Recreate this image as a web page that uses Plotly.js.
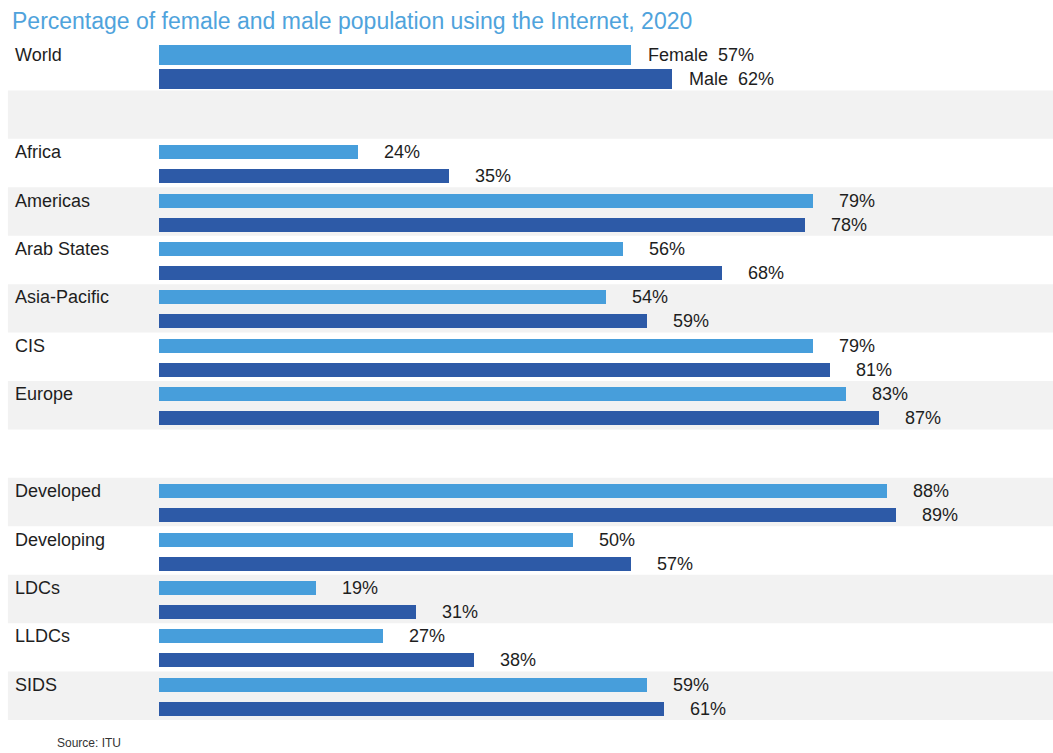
<!DOCTYPE html>
<html>
<head>
<meta charset="utf-8">
<script src="https://cdn.plot.ly/plotly-3.0.1.min.js"></script>
<style>html,body{margin:0;padding:0;background:#fff;}#chart{width:1053px;height:753px;}</style>
</head>
<body>
<div id="chart"></div>
<script>
const categories = ["World","Africa","Americas","Arab States","Asia-Pacific","CIS","Europe","Developed","Developing","LDCs","LLDCs","SIDS"];
const rowIndex = [0,2,3,4,5,6,7,9,10,11,12,13];
const female = [57,24,79,56,54,79,83,88,50,19,27,59];
const male = [62,35,78,68,59,81,87,89,57,31,38,61];
const bandRows = [1,3,5,7,9,11,13];
const titleText = "Percentage of female and male population using the Internet, 2020";
const sourceText = "Source: ITU";

const FOFF = -0.225, MOFF = 0.27;
const fontFam = "Liberation Sans, Arial, sans-serif";
const femaleColor = "#479edb", maleColor = "#2d5aa7";

const fy = rowIndex.map(r => r + FOFF);
const my = rowIndex.map(r => r + MOFF);
const widths = rowIndex.map(r => r === 0 ? 0.42 : 0.29);

const traces = [
  {type:"bar", orientation:"h", name:"Female", x:female, y:fy, width:widths,
   marker:{color:femaleColor}, hoverinfo:"x"},
  {type:"bar", orientation:"h", name:"Male", x:male, y:my, width:widths,
   marker:{color:maleColor}, hoverinfo:"x"}
];

const shapes = bandRows.map(r => ({type:"rect", xref:"paper", yref:"y",
  x0:-0.169, x1:1, y0:r-0.5, y1:r+0.5, fillcolor:"#f2f2f2", line:{width:0}, layer:"below"}));

const annotations = [];
categories.forEach((c,i) => {
  annotations.push({xref:"paper", yref:"y", x:-0.1635, y:fy[i], text:c, showarrow:false,
    xanchor:"left", yanchor:"middle", font:{family:fontFam, size:18, color:"#1e1e1e"}});
  const isWorld = i === 0;
  annotations.push({xref:"x", yref:"y", x:female[i], y:fy[i], xshift:isWorld?15:24,
    text:(isWorld?"Female\u00a0\u00a0":"")+female[i]+"%", showarrow:false,
    xanchor:"left", yanchor:"middle", font:{family:fontFam, size:18, color:"#1e1e1e"}});
  annotations.push({xref:"x", yref:"y", x:male[i], y:my[i], xshift:isWorld?15:24,
    text:(isWorld?"Male\u00a0\u00a0":"")+male[i]+"%", showarrow:false,
    xanchor:"left", yanchor:"middle", font:{family:fontFam, size:18, color:"#1e1e1e"}});
});
annotations.push({xref:"paper", yref:"paper", x:-0.1163, y:-0.047, text:sourceText, showarrow:false,
  xanchor:"left", yanchor:"bottom", font:{family:fontFam, size:12, color:"#333"}});

const layout = {
  width:1053, height:753,
  margin:{l:159, r:0, t:42, b:33, pad:0},
  paper_bgcolor:"#ffffff", plot_bgcolor:"rgba(0,0,0,0)",
  showlegend:false,
  title:{text:titleText, xref:"container", yref:"container", x:12/1053, xanchor:"left",
    y:1-21/753, yanchor:"middle", font:{family:fontFam, size:23, color:"#4fa3dc"}},
  xaxis:{range:[0,108], visible:false, fixedrange:true},
  yaxis:{range:[13.5,-0.5], visible:false, fixedrange:true},
  bargap:0,
  shapes:shapes,
  annotations:annotations
};

Plotly.newPlot("chart", traces, layout, {displayModeBar:false, staticPlot:true});
</script>
</body>
</html>
